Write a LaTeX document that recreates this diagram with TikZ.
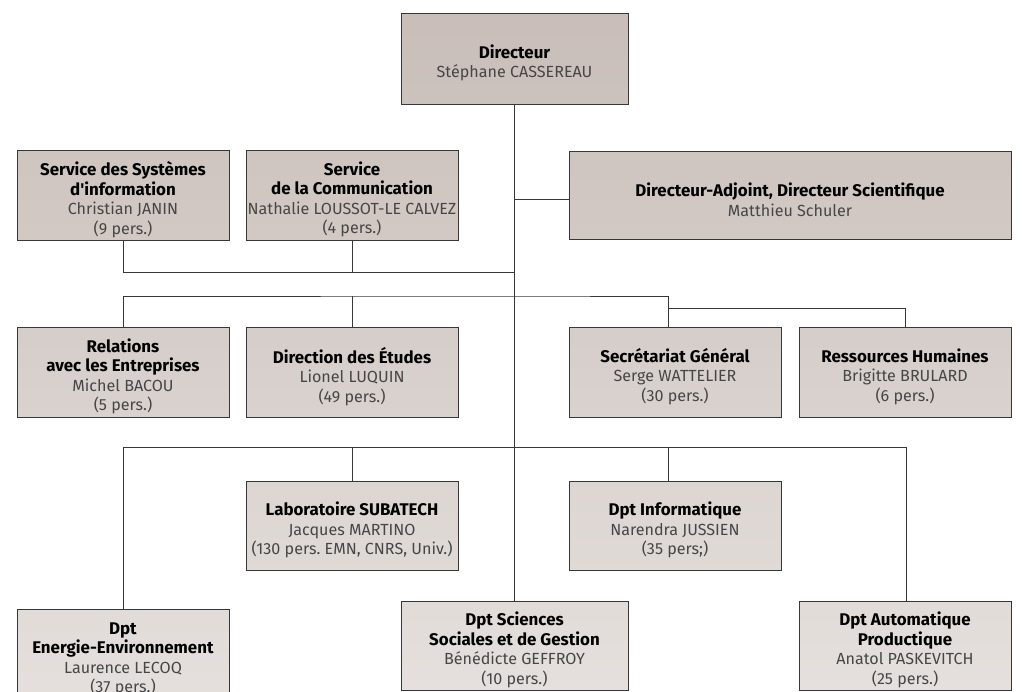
\documentclass[tikz,border=0pt]{standalone}
\usepackage{fontspec}
\setmainfont{Fira Sans}
\frenchspacing
\definecolor{bdark}{RGB}{200,189,184}
\definecolor{blight}{RGB}{229,224,221}
\definecolor{edge}{RGB}{55,55,55}
\definecolor{nametxt}{RGB}{70,70,70}
\newcommand{\ttl}[1]{{\fontsize{16.9}{19.5}\selectfont\textbf{#1}}}
\newcommand{\nm}[1]{{\color{nametxt}#1}}
\tikzset{
  orgbox/.style={draw=edge, line width=1pt, inner sep=0pt},
  boxtext/.style={align=center, inner sep=0pt, yshift=-4.5pt,
    font=\fontsize{16.1}{19.5}\selectfont\frenchspacing, text=black},
  small/.style={minimum width=212pt},
  wide/.style={minimum width=227pt},
  row1/.style={top color=blight!2!bdark, bottom color=blight!15!bdark},
  row2/.style={top color=blight!22!bdark, bottom color=blight!35!bdark},
  row3/.style={top color=blight!47!bdark, bottom color=blight!60!bdark},
  row4/.style={top color=blight!70!bdark, bottom color=blight!82!bdark},
  row5/.style={top color=blight!87!bdark, bottom color=blight!100!bdark},
  link/.style={draw=edge, line width=1pt},
}
\begin{document}
\begin{tikzpicture}[x=1pt,y=-1pt]
\useasboundingbox (0,0) rectangle (1022,691);
\clip (0,0) rectangle (1022,691);

% junctions
\coordinate (j2) at (514,272);
\coordinate (ja) at (514,199);
\coordinate (j3) at (514,296);
\coordinate (j3r) at (668,296);
\coordinate (j3b) at (668,308);
\coordinate (j4) at (514,447);
\coordinate (j4i) at (668,447);
\coordinate (j4r) at (906,447);

% boxes
\node[orgbox, wide, row1, minimum height=91pt,
  label={[boxtext]center:{\ttl{Directeur}\\\nm{Stéphane CASSEREAU}}}] (dir) at (514.5,58.5) {};

\node[orgbox, small, row2, minimum height=90pt,
  label={[boxtext]center:{\ttl{Service des Systèmes}\\\ttl{d\textquotesingle information}\\\nm{Christian JANIN}\\\nm{(9 pers.)}}}] (ssi) at (123,195) {};
\node[orgbox, small, row2, minimum height=90pt,
  label={[boxtext]center:{\ttl{Service}\\\ttl{de la Communication}\\\nm{Nathalie LOUSSOT-LE CALVEZ}\\\nm{(4 pers.)}}}] (com) at (352,195) {};
\node[orgbox, row2, minimum width=442pt, minimum height=88pt,
  label={[boxtext]center:{\ttl{Directeur-Adjoint, Directeur Scientifique}\\\nm{Matthieu Schuler}}}] (adj) at (790,195) {};

\node[orgbox, small, row3, minimum height=90pt,
  label={[boxtext]center:{\ttl{Relations}\\\ttl{avec les Entreprises}\\\nm{Michel BACOU}\\\nm{(5 pers.)}}}] (rel) at (123,372) {};
\node[orgbox, small, row3, minimum height=90pt,
  label={[boxtext]center:{\ttl{Direction des Études}\\\nm{Lionel LUQUIN}\\\nm{(49 pers.)}}}] (etu) at (352,372) {};
\node[orgbox, small, row3, minimum height=90pt,
  label={[boxtext]center:{\ttl{Secrétariat Général}\\\nm{Serge WATTELIER}\\\nm{(30 pers.)}}}] (sec) at (675,372) {};
\node[orgbox, small, row3, minimum height=90pt,
  label={[boxtext]center:{\ttl{Ressources Humaines}\\\nm{Brigitte BRULARD}\\\nm{(6 pers.)}}}] (rh) at (905,372) {};

\node[orgbox, small, row4, minimum height=89pt,
  label={[boxtext]center:{\ttl{Laboratoire SUBATECH}\\\nm{Jacques MARTINO}\\\nm{(130 pers. EMN, CNRS, Univ.)}}}] (lab) at (352,525.5) {};
\node[orgbox, small, row4, minimum height=89pt,
  label={[boxtext]center:{\ttl{Dpt Informatique}\\\nm{Narendra JUSSIEN}\\\nm{(35 pers;)}}}] (inf) at (675,525.5) {};

\node[orgbox, small, row5, minimum height=92pt,
  label={[boxtext]center:{\ttl{Dpt}\\\ttl{Energie-Environnement}\\\nm{Laurence LECOQ}\\\nm{(37 pers.)}}}] (ene) at (123,655) {};
\node[orgbox, wide, row5, minimum height=89pt,
  label={[boxtext]center:{\ttl{Dpt Sciences}\\\ttl{Sociales et de Gestion}\\\nm{Bénédicte GEFFROY}\\\nm{(10 pers.)}}}] (sci) at (514.5,645.5) {};
\node[orgbox, small, row5, minimum height=89pt,
  label={[boxtext]center:{\ttl{Dpt Automatique}\\\ttl{Productique}\\\nm{Anatol PASKEVITCH}\\\nm{(25 pers.)}}}] (aut) at (905,645.5) {};

% connectors
\draw[link] (dir.south) -- (sci.north);
\draw[link] (ja) -- (ja -| adj.west);
\draw[link] (ssi.south) |- (j2);
\draw[link] (com.south) -- (com.south |- j2);
\draw[link] (rel.north) |- (j3) -- (j3r) -- (j3r |- sec.north);
\draw[link] (etu.north) -- (etu.north |- j3);
\draw[link] (j3b) -| (rh.north);
\draw[link] (ene.north) |- (j4r) -- (j4r |- aut.north);
\draw[link] (lab.north) -- (lab.north |- j4);
\draw[link] (j4i) -- (j4i |- inf.north);
\end{tikzpicture}
\end{document}
